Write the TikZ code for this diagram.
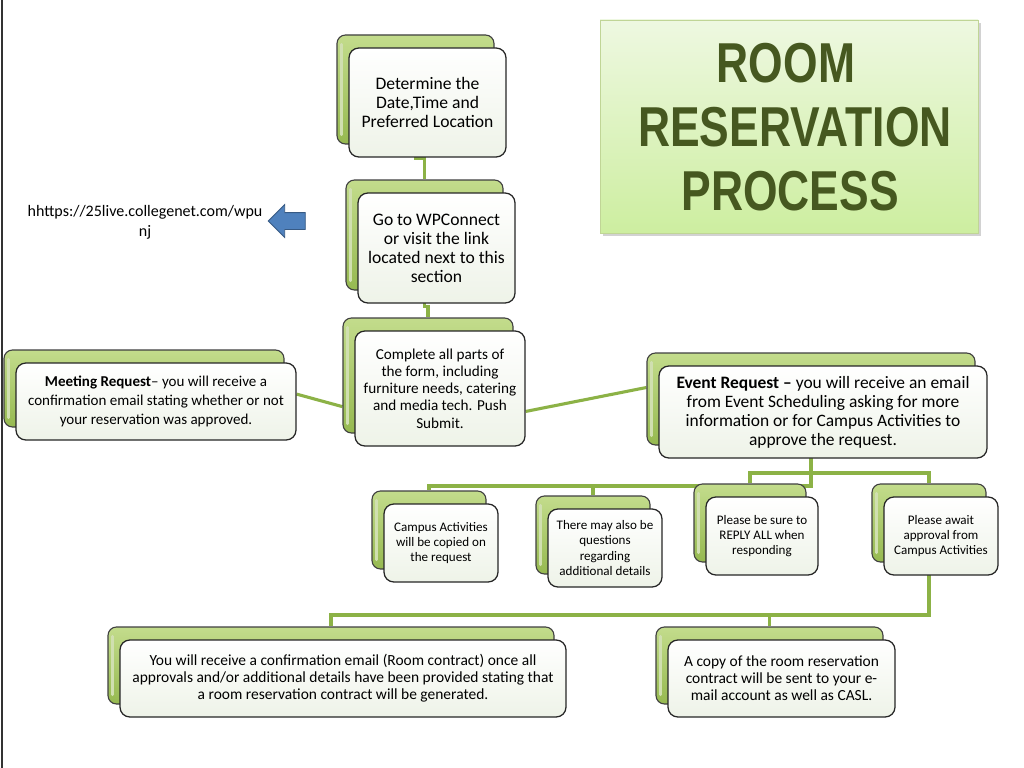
\documentclass[tikz,border=0pt]{standalone}
\usepackage{fontspec}
\usepackage{tikz}
\usepackage{xcolor}
\usetikzlibrary{shapes.arrows, calc, backgrounds, shadows}
\setmainfont{Carlito}
\newfontfamily\titlefont{Liberation Sans}
\definecolor{gBack}{RGB}{150,185,80}
\definecolor{gBackTop}{RGB}{195,220,140}
\definecolor{gLink}{RGB}{140,178,70}
\definecolor{gFace}{RGB}{238,243,232}
\definecolor{gTitleTop}{RGB}{238,248,225}
\definecolor{gTitleBot}{RGB}{205,238,160}
\definecolor{gTitleTxt}{RGB}{70,88,32}
\definecolor{cArrow}{RGB}{79,129,189}
\newcommand{\fsMain}{\fontsize{12.5}{13.5}\selectfont}
\newcommand{\fsForm}{\fontsize{10.8}{12.2}\selectfont}
\newcommand{\fsMeet}{\fontsize{10.7}{13.5}\selectfont}
\newcommand{\fsEvent}{\fontsize{12.4}{13.5}\selectfont}
\newcommand{\fsChild}{\fontsize{9.3}{10.7}\selectfont}
\newcommand{\fsBottom}{\fontsize{11}{12.1}\selectfont}
\newcommand{\ttl}[1]{\scalebox{0.79}[1]{#1}}
\tikzset{
	backbox/.style ={rectangle, rounded corners=6pt, draw=black!75, line width=0.8pt, top color=gBackTop, bottom color=gBack},
	frontbox/.style={rectangle, rounded corners=7pt, draw=black!85, line width=0.9pt, top color=white, bottom color=gFace, align=center, inner sep=2pt},
	link/.style    ={draw=gLink, line width=2.2pt},
	titlebox/.style={rectangle, draw=gBack!60, top color=gTitleTop, bottom color=gTitleBot,
		drop shadow={shadow xshift=2pt, shadow yshift=-2pt, opacity=0.35}},
	titletext/.style={inner sep=0pt, font=\titlefont\bfseries\fontsize{40}{44}\selectfont, text=gTitleTxt},
}
% double box: name, x, y, width, height, font, text
\newcommand{\resBox}[7]{%
	\node[backbox, minimum width=#4*0.025cm, minimum height=#5*0.025cm] (#1-b) at ({#2-12},{#3-13}) {};
	\draw[white!55!gBack, line width=2pt, line cap=round] ([shift={(3.5pt,-7pt)}]#1-b.north west) -- ([shift={(3.5pt,7pt)}]#1-b.south west);
	\node[frontbox, minimum width=#4*0.025cm, minimum height=#5*0.025cm, font=#6] (#1) at (#2,#3) {#7};}

\begin{document}
\begin{tikzpicture}[x=0.025cm, y=-0.025cm]
	\useasboundingbox (0,0) rectangle (1024,768);
	\draw[black!80, line width=1.2pt] (2,0) -- (2,768);
	% title
	\node[titlebox, minimum width=378*0.025cm, minimum height=213*0.025cm] (title) at (789,126.5) {};
	\node[titletext] (title-1) at (786,63) {\ttl{ROOM}};
	\node[titletext] (title-2) at (795,127) {\ttl{RESERVATION}};
	\node[titletext] (title-3) at (790,191) {\ttl{PROCESS}};
	% link to the web form
	\node[font=\fontsize{11.4}{14}\selectfont, align=center] (url) at (145,222) {hhttps://25live.collegenet.com/wpu\\nj};
	\node[single arrow, shape border rotate=180, fill=cArrow, draw=cArrow!70!black, line width=0.6pt,
		minimum height=37*0.025cm, inner xsep=0pt, inner ysep=8*0.025cm, single arrow head extend=8*0.025cm] (arrow) at (291,221) {};
	% main column
	\resBox{det}{427.5}{102.5}{157}{109}{\fsMain}{Determine the\\Date,Time and\\Preferred Location}
	\resBox{wpc}{436.5}{248}{157}{110}{\fsMain}{Go to WPConnect\\or visit the link\\located next to this\\section}
	\resBox{form}{440}{388.5}{170}{115}{\fsForm}{Complete all parts of\\the form, including\\furniture needs, catering\\and media tech. Push\\Submit.}
	\resBox{meet}{156}{401.5}{280}{77}{\fsMeet}{\textbf{Meeting Request}-- you will receive a\\confirmation email stating whether or not\\your reservation was approved.}
	\resBox{event}{823}{412}{328}{92}{\fsEvent}{\textbf{Event Request --} you will receive an email\\from Event Scheduling asking for more\\information or for Campus Activities to\\approve the request.}
	% event sub steps
	\resBox{cone}{441}{543}{114}{78}{\fsChild}{Campus Activities\\will be copied on\\the request}
	\resBox{ctwo}{605}{548}{114}{78}{\fsChild}{There may also be\\questions\\regarding\\additional details}
	\resBox{cthree}{762}{536}{112}{78}{\fsChild}{Please be sure to\\REPLY ALL when\\responding}
	\resBox{cfour}{941}{536}{114}{78}{\fsChild}{Please await\\approval from\\Campus Activities}
	% results
	\resBox{big}{343}{678.5}{446}{77}{\fsBottom}{You will receive a confirmation email (Room contract) once all\\approvals and/or additional details have been provided stating that\\a room reservation contract will be generated.}
	\resBox{copy}{781.5}{678.5}{227}{77}{\fsBottom}{A copy of the room reservation\\contract will be sent to your e-\\mail account as well as CASL.}
	% connectors
	\coordinate (upbar) at (0,473);
	\coordinate (lobar) at (0,486);
	\coordinate (botbar) at (0,615);
	\begin{scope}[on background layer]
		\fill[white] (0,0) rectangle (1024,768);
		\draw[link] (det-b.south) -- ++(0,14) -| (wpc-b.north);
		\draw[link] (wpc-b.south) -- ++(0,16) -| (form-b.north);
		\draw[link] (meet.3) -- (form-b.200);
		\draw[link] (form.-15) -- (event-b.176);
		\draw[link] (event-b.south) -- (event-b.south |- lobar) -| (cone-b.north);
		\draw[link] (event-b.south |- lobar) -| (ctwo-b.north);
		\draw[link] (cthree-b.north) -- (cthree-b.north |- upbar) -| (cfour-b.north);
		\draw[link] (cfour-b.south) -- (cfour-b.south |- botbar) -| (big-b.north);
		\draw[link] (copy-b.north) -- (copy-b.north |- botbar);
	\end{scope}
\end{tikzpicture}
\end{document}
